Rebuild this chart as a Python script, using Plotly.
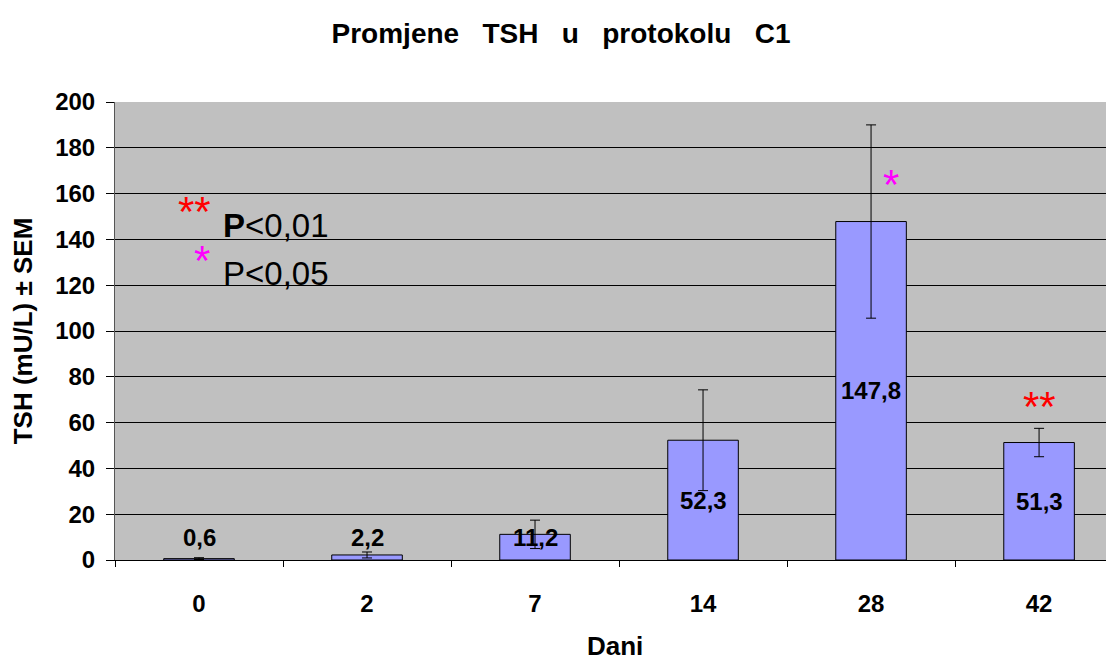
import plotly.graph_objects as go

# dani (days) and mean TSH with SEM
dani = ['0', '2', '7', '14', '28', '42']
tsh = [0.6, 2.2, 11.2, 52.3, 147.8, 51.3]
sem = [0.4, 1.3, 6.2, 22.0, 42.2, 6.2]
labels = ['0,6', '2,2', '11,2', '52,3', '147,8', '51,3']

FONT = 'Liberation Sans, Arial, sans-serif'


def draw():
    fig = go.Figure(
        data=go.Bar(
            x=dani, y=tsh,
            width=0.42,
            marker={'color': '#9999FF', 'line': {'color': 'black', 'width': 1}},
            error_y=dict(type='data', array=sem, color='black', thickness=1, width=5),
        ),
        layout=go.Layout(
            title=dict(text='<b>Promjene&nbsp;&nbsp; TSH&nbsp;&nbsp; u&nbsp;&nbsp; protokolu&nbsp;&nbsp; C1</b>',
                       x=0.5, xanchor='center', y=0.962, yanchor='middle',
                       font=dict(size=28, color='black')),
            xaxis=dict(type='category', automargin=False,
                       range=[-0.5, 5.446], tickson='boundaries', ticks='outside',
                       ticklen=6, tickcolor='black', showline=True, linecolor='black',
                       tickfont=dict(size=24, weight='bold'), ticklabelstandoff=22,
                       showgrid=False),
            yaxis=dict(title=dict(text='<b>TSH (mU/L) ± SEM</b>', font=dict(size=26), standoff=15),
                       range=[0, 200], dtick=20, ticks='outside', ticklen=8,
                       tickcolor='black', showline=True, linecolor='#555555',
                       gridcolor='black', gridwidth=1,
                       tickfont=dict(size=24, weight='bold'), ticklabelstandoff=6,
                       zeroline=False),
            plot_bgcolor='#C0C0C0',
            paper_bgcolor='white',
            font=dict(family=FONT, color='black'),
            showlegend=False,
        )
    )

    # x axis title, placed below the tick labels
    fig.add_annotation(text='<b>Dani</b>', xref='paper', yref='paper',
                       x=0.5, y=-0.188, yanchor='middle', showarrow=False,
                       font=dict(size=26))

    # value labels centred in the bars, lifted for the small ones
    # (category index used as x, since the day names look numeric)
    for i, (v, t) in enumerate(zip(tsh, labels)):
        fig.add_annotation(x=i, y=max(v / 2, 10), text='<b>' + t + '</b>',
                           showarrow=False, font=dict(size=24))

    # significance legend
    fig.add_annotation(x=0, y=152, text='**', showarrow=False, xshift=-5,
                       font=dict(size=42, color='red'))
    fig.add_annotation(x=0, y=146, text='<b>P</b><0,01', showarrow=False,
                       xanchor='left', xshift=22, font=dict(size=33))
    fig.add_annotation(x=0, y=131, text='*', showarrow=False, xshift=3,
                       font=dict(size=42, color='magenta'))
    fig.add_annotation(x=0, y=125, text='P<0,05', showarrow=False,
                       xanchor='left', xshift=22, font=dict(size=33))

    # significance marks over bars
    fig.add_annotation(x=4, y=164, text='*', showarrow=False, xshift=20,
                       font=dict(size=42, color='magenta'))
    fig.add_annotation(x=5, y=67, text='**', showarrow=False,
                       font=dict(size=42, color='red'))

    # page body has an 8px offset, so the canvas is trimmed to fit the window
    fig.update_layout(width=1106, height=653,
                      margin=dict(l=107, r=0, t=94, b=101))
    fig.write_html('out.html')


if __name__ == '__main__':
    draw()
